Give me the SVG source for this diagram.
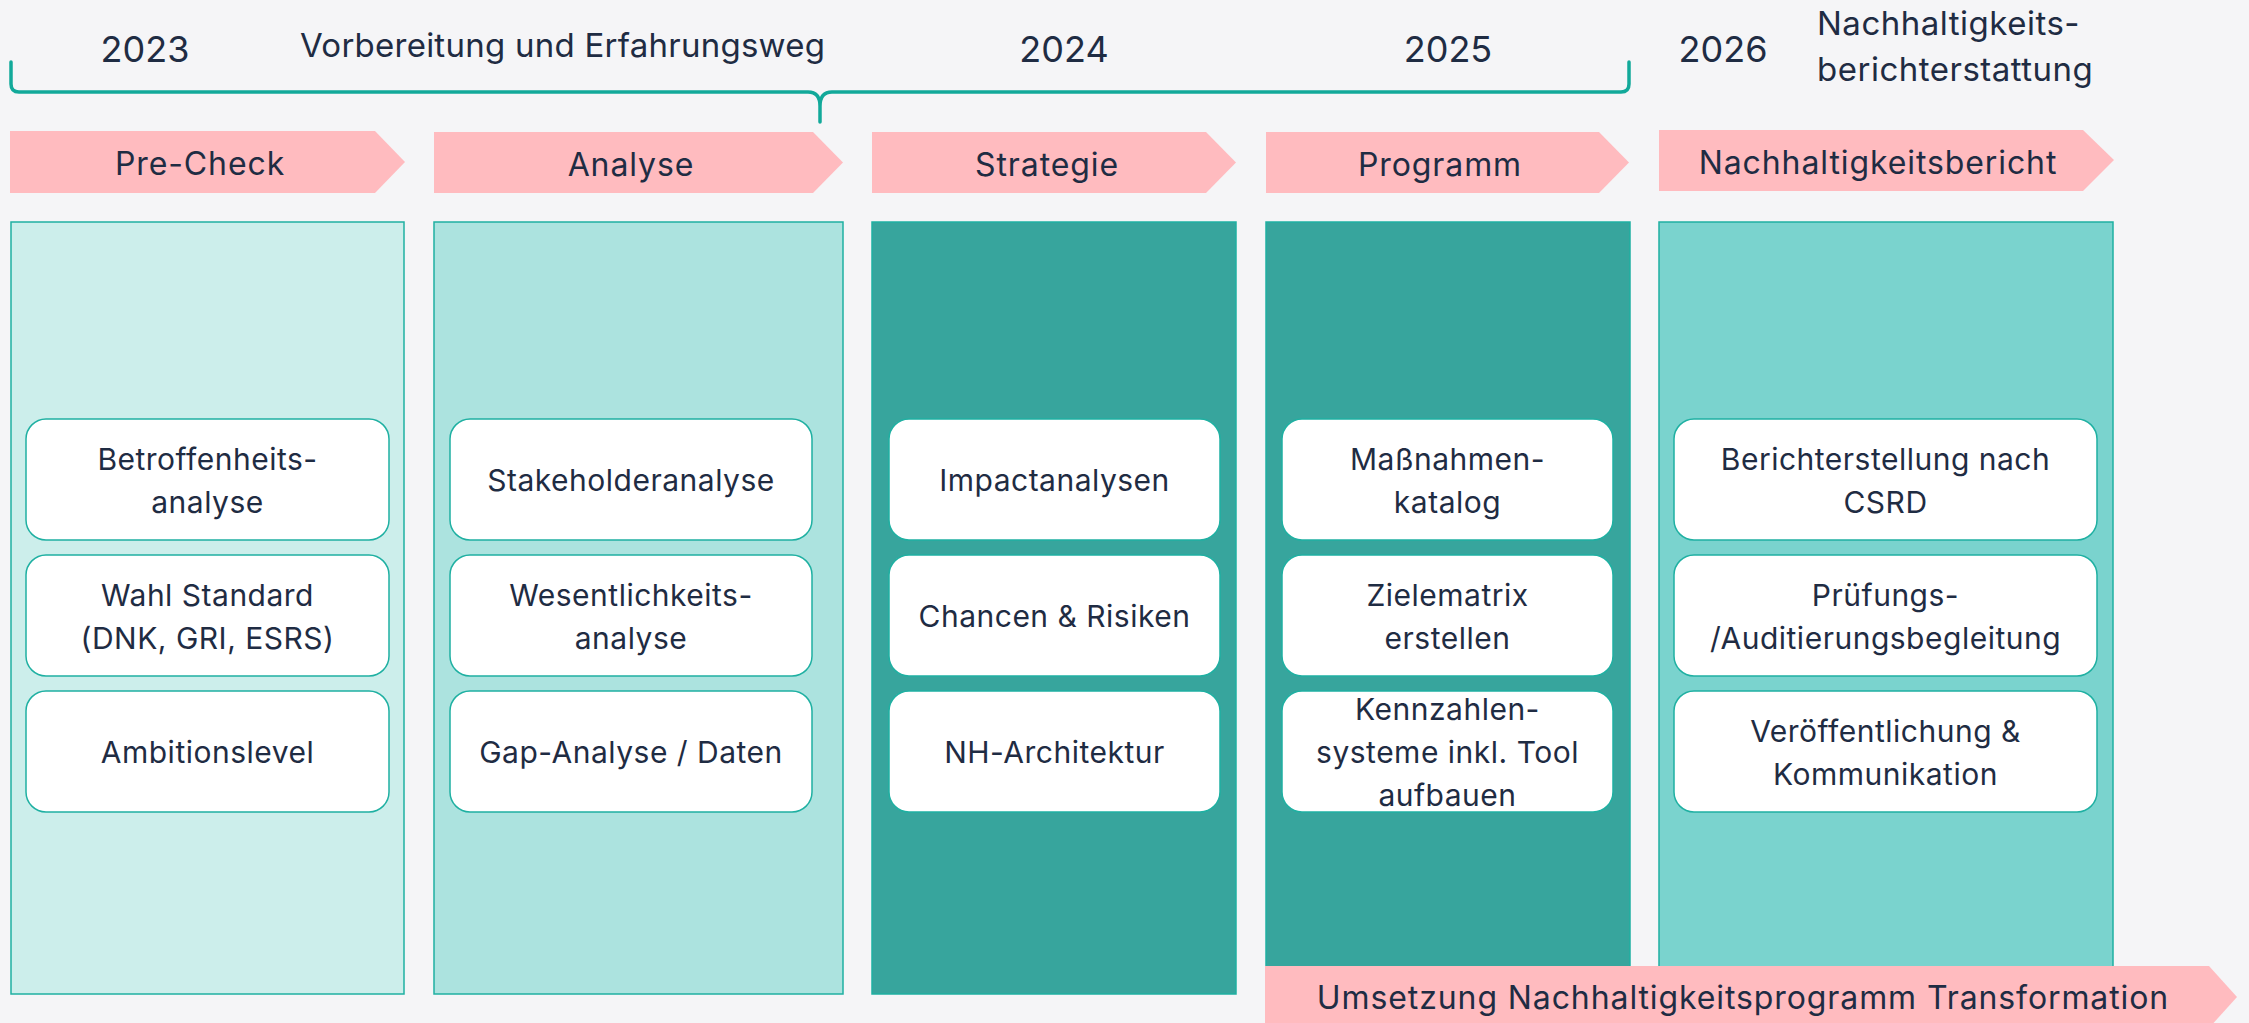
<svg xmlns="http://www.w3.org/2000/svg" width="2249" height="1023" viewBox="0 0 2249 1023">
  <defs>
    <style>
      .txt { font-family: Inter, "Noto Sans", "Liberation Sans", sans-serif; fill: #1f2c43; }
      .year { font-size: 36px; text-anchor: middle; }
      .head { font-size: 33px; letter-spacing: 0.5px; }
      .phase-label { font-size: 32px; letter-spacing: 0.9px; text-anchor: middle; }
      .card-label { font-size: 30px; letter-spacing: 0.5px; text-anchor: middle; }
      .phase { fill: #ffbbbf; }
      .col { stroke: #1fb0a2; stroke-width: 1.5; }
      .card { fill: #ffffff; stroke: #1fb0a2; stroke-width: 1.5; }
      .brace { fill: none; stroke: #12a99a; stroke-width: 3.5; stroke-linecap: round; stroke-linejoin: round; }
    </style>
  </defs>

  <rect x="0" y="0" width="2249" height="1023" fill="#f5f5f7"/>

  <!-- Timeline header -->
  <g id="timeline">
    <text class="txt year" x="145" y="62">2023</text>
    <text class="txt head" x="300" y="57" style="letter-spacing:0.25px">Vorbereitung und Erfahrungsweg</text>
    <text class="txt year" x="1064" y="62">2024</text>
    <text class="txt year" x="1448" y="62">2025</text>
    <text class="txt year" x="1723" y="62">2026</text>
    <text class="txt head" x="1817" y="35">Nachhaltigkeits-</text>
    <text class="txt head" x="1817" y="81">berichterstattung</text>
  </g>

  <!-- Curly bracket spanning 2023 to 2025 -->
  <g id="connectors">
    <path class="brace" d="M 11 62 V 84 Q 11 92 19 92 H 808 Q 820 92 820 106 V 122 M 820 106 Q 820 92 832 92 H 1621 Q 1629 92 1629 84 V 62"/>
  </g>

  <!-- Phase 1: Pre-Check -->
  <g id="phase-precheck">
    <polygon class="phase" points="10,131 375,131 405,162 375,193 10,193"/>
    <text class="txt phase-label" x="200" y="175">Pre-Check</text>
    <rect class="col" x="11" y="222" width="393" height="772" fill="#cceeeb"/>
    <rect class="card" x="26" y="419" width="363" height="121" rx="20"/>
    <text class="txt card-label" x="207.5" y="470">Betroffenheits-</text>
    <text class="txt card-label" x="207.5" y="513">analyse</text>
    <rect class="card" x="26" y="555" width="363" height="121" rx="20"/>
    <text class="txt card-label" x="207.5" y="606">Wahl Standard</text>
    <text class="txt card-label" x="207.5" y="649">(DNK, GRI, ESRS)</text>
    <rect class="card" x="26" y="691" width="363" height="121" rx="20"/>
    <text class="txt card-label" x="207.5" y="763">Ambitionslevel</text>
  </g>

  <!-- Phase 2: Analyse -->
  <g id="phase-analyse">
    <polygon class="phase" points="434,132 813,132 843,162.5 813,193 434,193"/>
    <text class="txt phase-label" x="631" y="176">Analyse</text>
    <rect class="col" x="434" y="222" width="409" height="772" fill="#ace3df"/>
    <rect class="card" x="450" y="419" width="362" height="121" rx="20"/>
    <text class="txt card-label" x="631" y="491">Stakeholderanalyse</text>
    <rect class="card" x="450" y="555" width="362" height="121" rx="20"/>
    <text class="txt card-label" x="631" y="606">Wesentlichkeits-</text>
    <text class="txt card-label" x="631" y="649">analyse</text>
    <rect class="card" x="450" y="691" width="362" height="121" rx="20"/>
    <text class="txt card-label" x="631" y="763">Gap-Analyse / Daten</text>
  </g>

  <!-- Phase 3: Strategie -->
  <g id="phase-strategie">
    <polygon class="phase" points="872,132 1206,132 1236,162.5 1206,193 872,193"/>
    <text class="txt phase-label" x="1047" y="176">Strategie</text>
    <rect class="col" x="872" y="222" width="364" height="772" fill="#37a59d"/>
    <rect class="card" x="889" y="419" width="331" height="121" rx="20"/>
    <text class="txt card-label" x="1054.5" y="491">Impactanalysen</text>
    <rect class="card" x="889" y="555" width="331" height="121" rx="20"/>
    <text class="txt card-label" x="1054.5" y="627">Chancen &amp; Risiken</text>
    <rect class="card" x="889" y="691" width="331" height="121" rx="20"/>
    <text class="txt card-label" x="1054.5" y="763">NH-Architektur</text>
  </g>

  <!-- Phase 4: Programm -->
  <g id="phase-programm">
    <polygon class="phase" points="1266,132 1599,132 1629,162.5 1599,193 1266,193"/>
    <text class="txt phase-label" x="1440" y="176">Programm</text>
    <rect class="col" x="1266" y="222" width="364" height="772" fill="#37a59d"/>
    <rect class="card" x="1282" y="419" width="331" height="121" rx="20"/>
    <text class="txt card-label" x="1447.5" y="470">Maßnahmen-</text>
    <text class="txt card-label" x="1447.5" y="513">katalog</text>
    <rect class="card" x="1282" y="555" width="331" height="121" rx="20"/>
    <text class="txt card-label" x="1447.5" y="606">Zielematrix</text>
    <text class="txt card-label" x="1447.5" y="649">erstellen</text>
    <rect class="card" x="1282" y="691" width="331" height="121" rx="20"/>
    <text class="txt card-label" x="1447.5" y="720">Kennzahlen-</text>
    <text class="txt card-label" x="1447.5" y="763">systeme inkl. Tool</text>
    <text class="txt card-label" x="1447.5" y="806">aufbauen</text>
  </g>

  <!-- Phase 5: Nachhaltigkeitsbericht -->
  <g id="phase-bericht">
    <polygon class="phase" points="1659,130 2083,130 2114,160 2083,191 1659,191"/>
    <text class="txt phase-label" x="1878" y="174">Nachhaltigkeitsbericht</text>
    <rect class="col" x="1659" y="222" width="454" height="772" fill="#7ad3ce"/>
    <rect class="card" x="1674" y="419" width="423" height="121" rx="20"/>
    <text class="txt card-label" x="1885.5" y="470">Berichterstellung nach</text>
    <text class="txt card-label" x="1885.5" y="513">CSRD</text>
    <rect class="card" x="1674" y="555" width="423" height="121" rx="20"/>
    <text class="txt card-label" x="1885.5" y="606">Prüfungs-</text>
    <text class="txt card-label" x="1885.5" y="649">/Auditierungsbegleitung</text>
    <rect class="card" x="1674" y="691" width="423" height="121" rx="20"/>
    <text class="txt card-label" x="1885.5" y="742">Veröffentlichung &amp;</text>
    <text class="txt card-label" x="1885.5" y="785">Kommunikation</text>
  </g>

  <!-- Implementation band across Programm and Bericht -->
  <g id="phase-umsetzung">
    <polygon class="phase" points="1265,966 2209,966 2237,997 2209,1028 1265,1028"/>
    <text class="txt phase-label" x="1743" y="1009">Umsetzung Nachhaltigkeitsprogramm Transformation</text>
  </g>
</svg>
